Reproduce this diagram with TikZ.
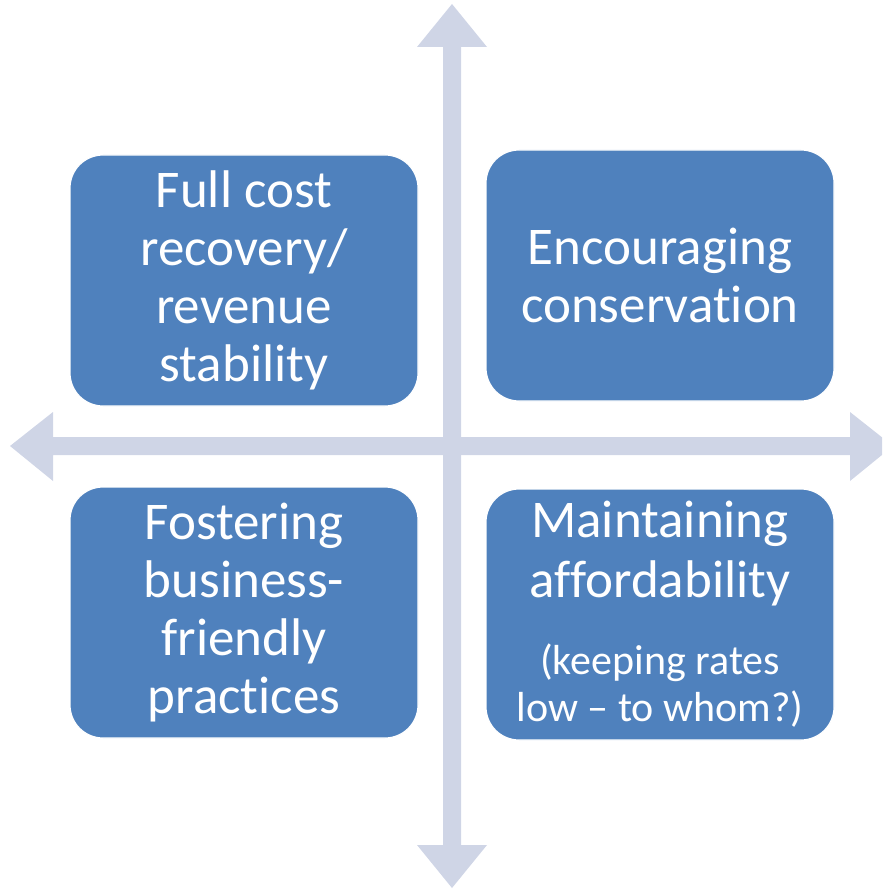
\documentclass[tikz,border=0pt]{standalone}
\usepackage{fontspec}
\setmainfont{Carlito}[Ligatures={NoCommon}]
\definecolor{axiscol}{RGB}{207,213,230}
\definecolor{boxblue}{RGB}{79,129,189}
\tikzset{
  quad/.style={draw=white, line width=1.2pt, fill=boxblue, rounded corners=33pt,
    minimum width=348pt, minimum height=251pt, inner sep=0pt, text=white,
    align=center, font=\fontsize{53}{58}\selectfont},
  axisfill/.style={fill=axiscol, draw=none}
}
\newcommand{\smalltxt}[1]{{\fontsize{42}{46}\selectfont #1}}
\begin{document}
\begin{tikzpicture}[x=1pt,y=-1pt]
\useasboundingbox (0,0) rectangle (882,890);
\begin{scope}
\clip (0,0) rectangle (882,890);
% named axis ends
\coordinate (top) at (452,4);
\coordinate (bottom) at (452,888);
\coordinate (left) at (10,446);
\coordinate (right) at (893,446);
% vertical double arrow
\fill[axisfill] (top) -- (487,47) -- (461,47) -- (461,845) -- (487,845) -- (bottom)
  -- (417,845) -- (443,845) -- (443,47) -- (417,47) -- cycle;
% horizontal double arrow
\fill[axisfill] (left) -- (53,412) -- (53,437) -- (850,437) -- (850,412) -- (right)
  -- (850,481) -- (850,455) -- (53,455) -- (53,481) -- cycle;
\end{scope}
\node[quad] (tl) at (244,280.5) {Full cost\\recovery/\\revenue\\stability};
\node[quad] (tr) at (660,275.5) {Encouraging\\conservation};
\node[quad] (bl) at (244,612.5) {Fostering\\business-\\friendly\\practices};
\node[quad] (br) at (660,614.5) {Maintaining\\[2pt]affordability\\[19pt]\smalltxt{(keeping rates}\\[-11pt]\smalltxt{low – to whom?)}};
\end{tikzpicture}
\end{document}
